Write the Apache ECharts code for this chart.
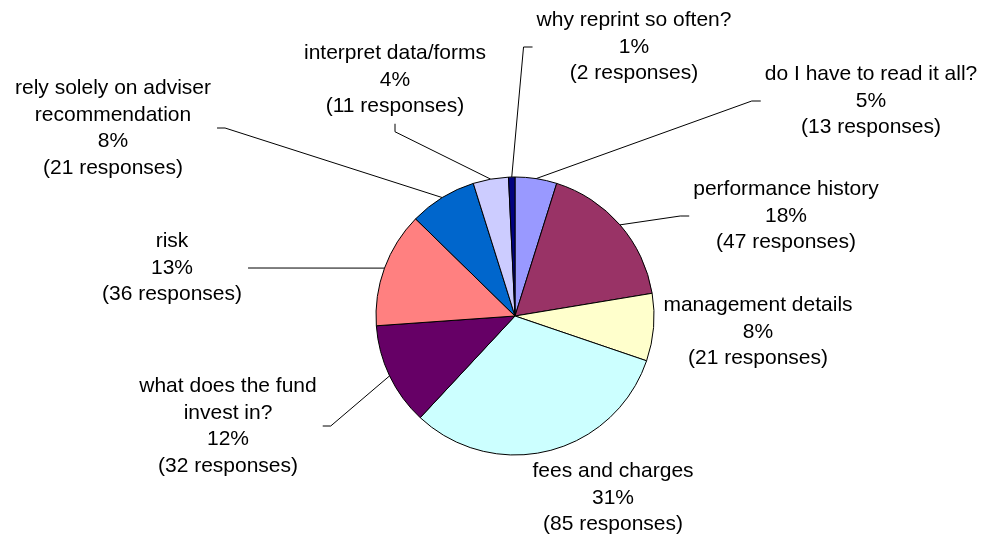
<!DOCTYPE html>
<html>
<head>
<meta charset="utf-8">
<title>Fund report questions</title>
<script src="https://cdn.jsdelivr.net/npm/echarts@6/dist/echarts.min.js"></script>
<style>
    html, body { margin: 0; padding: 0; background: #fff; }
    #chart { width: 987px; height: 537px; }
</style>
</head>
<body>
<div id="chart"></div>
<script>
// slices, clockwise from 12 o'clock
var categories = [
    'do I have to read it all?',
    'performance history',
    'management details',
    'fees and charges',
    'what does the fund\ninvest in?',
    'risk',
    'rely solely on adviser\nrecommendation',
    'interpret data/forms',
    'why reprint so often?'
];
var responses = [13, 47, 21, 85, 32, 36, 21, 11, 2];
// percentages as printed on the chart
var shownPercent = [5, 18, 8, 31, 12, 13, 8, 4, 1];
var colors = ['#9999FF', '#993366', '#FFFFCC', '#CCFFFF', '#660066', '#FF8080', '#0066CC', '#CCCCFF', '#000080'];

// label centres and the side the leader line meets (null = no leader)
var labelSpots = [
    [871, 101, 'left'],
    [786, 216, 'left'],
    [758, 332, null],
    [613, 498, null],
    [228, 426, 'right'],
    [172, 268, 'right'],
    [113, 128, 'right'],
    [395, 80, 'bottom'],
    [634, 47, 'left']
];

var chart = echarts.init(document.getElementById('chart'));

var pieData = categories.map(function (name, i) {
    return {
        name: name,
        value: responses[i],
        itemStyle: { color: colors[i] },
        labelLine: { show: labelSpots[i][2] != null }
    };
});

var option = {
    backgroundColor: '#ffffff',
    animation: false,
    series: [{
        type: 'pie',
        center: [515, 316],
        radius: 139,
        startAngle: 90,
        clockwise: true,
        avoidLabelOverlap: false,
        data: pieData,
        itemStyle: {
            borderColor: '#000',
            borderWidth: 1
        },
        label: {
            show: true,
            position: 'outside',
            color: '#000',
            fontFamily: 'Liberation Sans, Arial, sans-serif',
            fontSize: 21,
            lineHeight: 26.5,
            align: 'center',
            formatter: function (p) {
                return p.name + '\n' + shownPercent[p.dataIndex] + '%\n(' + p.value + ' responses)';
            }
        },
        labelLine: {
            show: true,
            length: 10,
            length2: 8,
            lineStyle: { color: '#000', width: 1 }
        },
        emphasis: { disabled: true },
        labelLayout: function (params) {
            var spot = labelSpots[params.dataIndex];
            var x = spot[0], y = spot[1], side = spot[2];
            var w = params.labelRect.width, h = params.labelRect.height;
            var out = { x: x, y: y, align: 'center', verticalAlign: 'middle' };
            if (side && params.labelLinePoints) {
                var end, bend;
                if (side === 'left') {
                    end = [x - w / 2 - 4, y];
                    bend = [end[0] - 9, y];
                } else if (side === 'right') {
                    end = [x + w / 2 + 6, y];
                    bend = [end[0] + 8, y];
                } else {
                    end = [x, y + h / 2 + 4];
                    bend = [x, end[1] + 8];
                }
                out.labelLinePoints = [params.labelLinePoints[0], bend, end];
            }
            return out;
        }
    }]
};

chart.setOption(option);
</script>
</body>
</html>
